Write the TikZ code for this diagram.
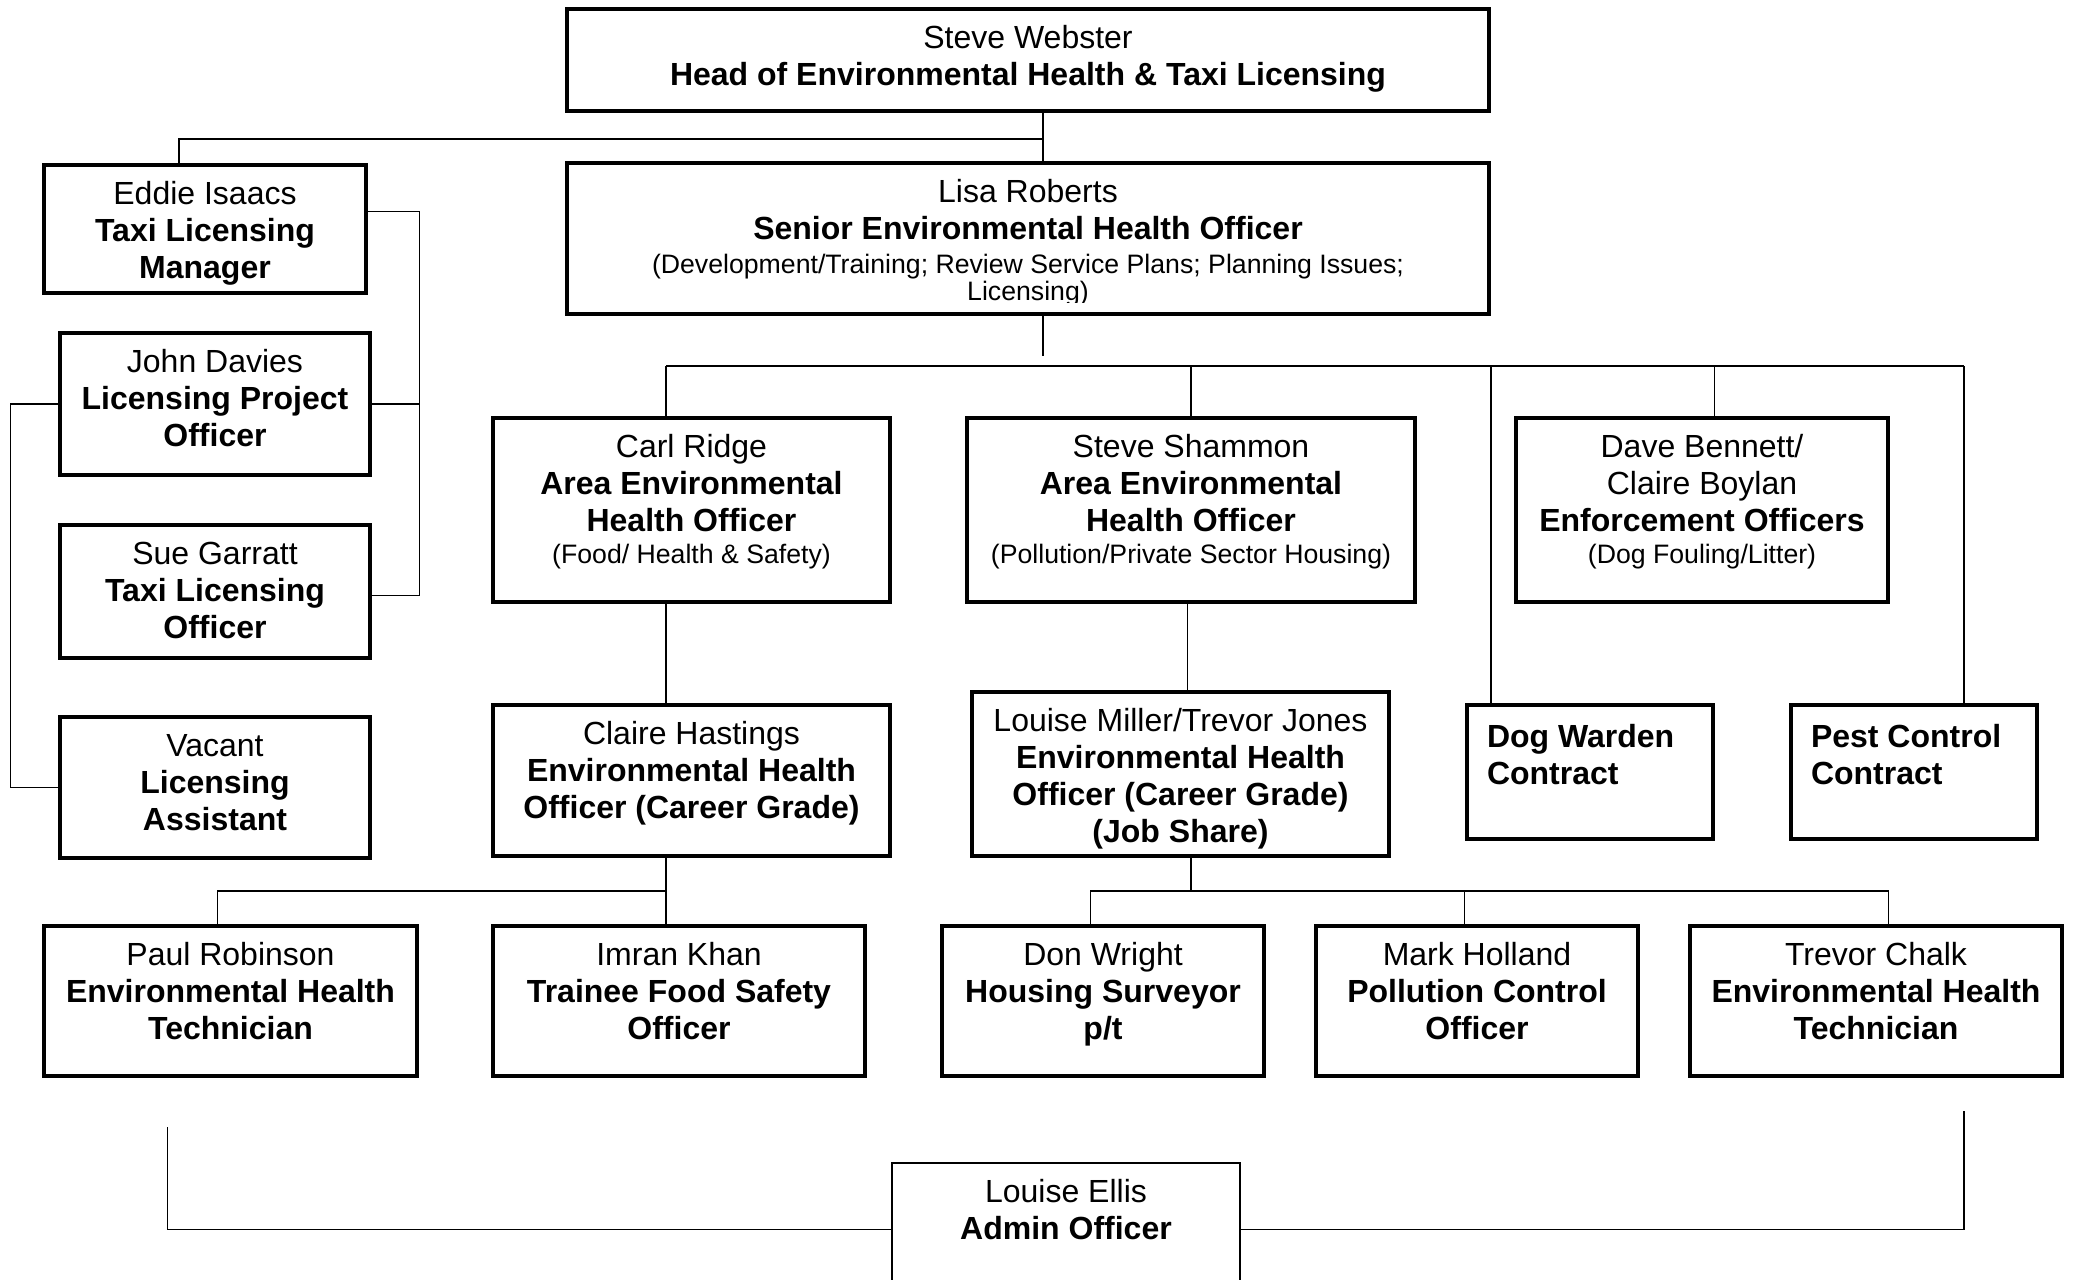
\documentclass[tikz,border=0pt]{standalone}
\usepackage{fontspec}
\setmainfont{Liberation Sans}

% text sizes used in the chart
\newcommand\mainsize{\fontsize{24}{27.75}\selectfont}
\newcommand\smtxt[1]{{\fontsize{20}{20.5}\selectfont #1}}
\newcommand\boxtopgap{10.5pt}

% \orgbox[options]{name}{x1}{y1}{x2}{y2}{text}: box given by its corners, text set from the top
\newcommand\orgbox[7][]{%
  \pgfmathsetmacro\obw{(#5-#3)*0.75}%
  \pgfmathsetmacro\obh{(#6-#4)*0.75}%
  \node[orgnode,#1] (#2) at ({(#3+#5)/2},{(#4+#6)/2})
    {\parbox[c][\obh pt][t]{\obw pt}{\centering\vspace*{\boxtopgap}\strut #7}};%
}

\tikzset{
  orgnode/.style={draw, line width=3pt, inner sep=0pt, outer sep=0pt, font=\mainsize},
  conn/.style={line width=1pt},
}

\begin{document}
\begin{tikzpicture}[x=0.75pt, y=-0.75pt]
\useasboundingbox (0,0) rectangle (2076,1279);
\clip (0,0) rectangle (2076,1279);
\fill[white] (0,0) rectangle (2076,1279);

% ---- boxes ----
\orgbox{steve}{567}{9}{1489}{111}{Steve Webster\\\textbf{Head of Environmental Health \& Taxi Licensing}}

\begin{scope}
  \clip (560,155) rectangle (1496,302);
  \orgbox{lisa}{567}{163}{1489}{314}{Lisa Roberts\\\textbf{Senior Environmental Health Officer}\\[-2.5pt]\smtxt{(Development/Training; Review Service Plans; Planning Issues;}\\[-7.25pt]\smtxt{Licensing)}}
\end{scope}
\draw[line width=3pt] (lisa.north west) rectangle (lisa.south east);

\orgbox{eddie}{44}{165}{366}{293}{Eddie Isaacs\\\textbf{Taxi Licensing}\\\textbf{Manager}}
\orgbox{john}{60}{333}{370}{475}{John Davies\\\textbf{Licensing Project}\\\textbf{Officer}}
\orgbox{sue}{60}{525}{370}{658}{Sue Garratt\\\textbf{Taxi Licensing}\\\textbf{Officer}}
\orgbox{vacant}{60}{717}{370}{858}{Vacant\\\textbf{Licensing}\\\textbf{Assistant}}

\orgbox{carl}{493}{418}{890}{602}{Carl Ridge\\\textbf{Area Environmental}\\\textbf{Health Officer}\\[-4pt]\smtxt{(Food/ Health \& Safety)}}
\orgbox{shammon}{967}{418}{1415}{602}{Steve Shammon\\\textbf{Area Environmental}\\\textbf{Health Officer}\\[-4pt]\smtxt{(Pollution/Private Sector Housing)}}
\orgbox{dave}{1516}{418}{1888}{602}{Dave Bennett/\\Claire Boylan\\\textbf{Enforcement Officers}\\[-4pt]\smtxt{(Dog Fouling/Litter)}}

\orgbox{claire}{493}{705}{890}{856}{Claire Hastings\\\textbf{Environmental Health}\\\textbf{Officer (Career Grade)}}
\orgbox{louisem}{972}{692}{1389}{856}{Louise Miller/Trevor Jones\\\textbf{Environmental Health}\\\textbf{Officer (Career Grade)}\\\textbf{(Job Share)}}

% the two contract boxes carry left-aligned text
\begin{scope}
  \renewcommand\boxtopgap{12.5pt}
  \orgbox{dog}{1467}{705}{1713}{839}{\raggedright\leftskip=15pt \textbf{Dog Warden}\\\textbf{Contract}}
  \orgbox{pest}{1791}{705}{2037}{839}{\raggedright\leftskip=15pt \textbf{Pest Control}\\\textbf{Contract}}
\end{scope}

\orgbox{paul}{44}{926}{417}{1076}{Paul Robinson\\\textbf{Environmental Health}\\\textbf{Technician}}
\orgbox{imran}{493}{926}{865}{1076}{Imran Khan\\\textbf{Trainee Food Safety}\\\textbf{Officer}}
\orgbox{don}{942}{926}{1264}{1076}{Don Wright\\\textbf{Housing Surveyor}\\\textbf{p/t}}
\orgbox{mark}{1316}{926}{1638}{1076}{Mark Holland\\\textbf{Pollution Control}\\\textbf{Officer}}
\orgbox{trevor}{1690}{926}{2062}{1076}{Trevor Chalk\\\textbf{Environmental Health}\\\textbf{Technician}}

\orgbox[line width=1.2pt]{ellis}{892}{1163}{1240}{1310}{Louise Ellis\\\textbf{Admin Officer}}

% ---- connectors ----
\coordinate (jtop) at (1043,139);
\coordinate (jeddie) at (179,139);
\draw[conn] (steve.south -| jtop) -- (lisa.north -| jtop);
\draw[conn] (jtop) -- (jeddie) -- (eddie.north -| jeddie);

% licensing team brackets
\coordinate (rtop) at (419.5,211.6);
\coordinate (rmid) at (419.5,404);
\coordinate (rbot) at (419.5,595.5);
\draw[conn] (eddie.east |- rtop) -- (rtop) -- (rbot) -- (sue.east |- rbot);
\draw[conn] (john.east |- rmid) -- (rmid);
\coordinate (ltop) at (10.5,404);
\coordinate (lbot) at (10.5,787.6);
\draw[conn] (john.west |- ltop) -- (ltop) -- (lbot) -- (vacant.west |- lbot);

% senior EHO and its teams
\coordinate (lstub) at (1043,356);
\draw[conn] (lisa.south -| lstub) -- (lstub);
\coordinate (busL) at (666,366);
\coordinate (busR) at (1964,366);
\coordinate (bshammon) at (1191,366);
\coordinate (bdog) at (1491,366);
\coordinate (bdave) at (1714.5,366);
\draw[conn] (busL) -- (busR);
\draw[conn] (busL) -- (carl.north -| busL);
\draw[conn] (bshammon) -- (shammon.north -| bshammon);
\draw[conn] (bdog) -- (dog.north -| bdog);
\draw[conn] (bdave) -- (dave.north -| bdave);
\draw[conn] (busR) -- (pest.north -| busR);

\draw[conn] (carl.south -| busL) -- (claire.north -| busL);
\coordinate (sj) at (1187.4,600);
\draw[conn] (shammon.south -| sj) -- (louisem.north -| sj);

% food team
\coordinate (cbus) at (666,891);
\coordinate (cbusL) at (217.5,891);
\draw[conn] (claire.south -| cbus) -- (imran.north -| cbus);
\draw[conn] (cbus) -- (cbusL) -- (paul.north -| cbusL);

% pollution / housing team
\coordinate (lbus) at (1191,891);
\coordinate (lbusL) at (1090.6,891);
\coordinate (lbusM) at (1464.6,891);
\coordinate (lbusR) at (1888.8,891);
\draw[conn] (louisem.south -| lbus) -- (lbus);
\draw[conn] (don.north -| lbusL) -- (lbusL) -- (lbusR) -- (trevor.north -| lbusR);
\draw[conn] (lbusM) -- (mark.north -| lbusM);

% admin support
\coordinate (aL) at (167.7,1127);
\coordinate (aLc) at (167.7,1229.6);
\coordinate (aR) at (1964,1110.5);
\coordinate (aRc) at (1964,1229.6);
\draw[conn] (aL) -- (aLc) -- (ellis.west |- aLc);
\draw[conn] (ellis.east |- aRc) -- (aRc) -- (aR);
\end{tikzpicture}
\end{document}
